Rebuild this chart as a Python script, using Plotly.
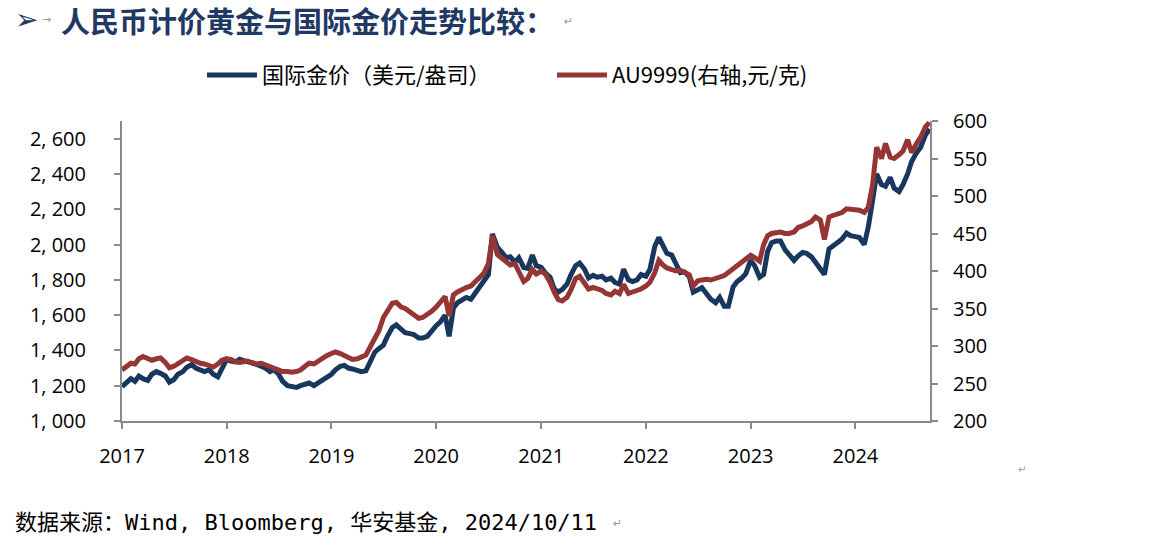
import pandas as pd
from plotly.graph_objects import Figure, Scatter

GOLD_USD_2017 = [1195, 1215, 1240, 1225, 1255, 1240, 1230, 1265, 1280, 1270, 1255, 1220,
                 1235, 1265, 1280, 1305, 1320, 1300, 1285, 1280, 1290, 1265, 1250, 1300]
GOLD_USD_2018 = [1350, 1340, 1335, 1350, 1340, 1335, 1330, 1320, 1310, 1300, 1280, 1290,
                 1265, 1225, 1200, 1195, 1190, 1200, 1210, 1215, 1200, 1215, 1235, 1255]
GOLD_USD_2019 = [1265, 1290, 1310, 1315, 1300, 1295, 1290, 1280, 1285, 1330, 1390, 1410,
                 1430, 1480, 1530, 1545, 1515, 1500, 1495, 1490, 1470, 1470, 1480, 1510]
GOLD_USD_2020 = [1540, 1560, 1600, 1480, 1640, 1670, 1690, 1700, 1690, 1720, 1755, 1785,
                 1830, 2060, 1985, 1960, 1925, 1930, 1900, 1925, 1870, 1865, 1940, 1880]
GOLD_USD_2021 = [1870, 1840, 1815, 1750, 1730, 1745, 1775, 1830, 1880, 1895, 1860, 1810,
                 1825, 1815, 1820, 1800, 1810, 1785, 1775, 1860, 1800, 1790, 1800, 1830]
GOLD_USD_2022 = [1820, 1860, 1990, 2040, 1990, 1950, 1940, 1890, 1840, 1845, 1820, 1730,
                 1740, 1755, 1720, 1690, 1670, 1700, 1650, 1650, 1760, 1790, 1810, 1835]
GOLD_USD_2023 = [1910, 1880, 1815, 1830, 1960, 2010, 2020, 2020, 1970, 1945, 1910, 1935,
                 1955, 1950, 1930, 1900, 1860, 1830, 1975, 1990, 2010, 2030, 2065, 2050]
GOLD_USD_2024 = [2045, 2040, 2000, 2100, 2250, 2400, 2340, 2330, 2380, 2320, 2300, 2340,
                 2400, 2470, 2520, 2550, 2620, 2655]

AU9999_2017 = [268, 273, 277, 276, 283, 286, 283, 281, 283, 284, 278, 271,
               273, 277, 281, 284, 282, 279, 277, 276, 274, 272, 276, 281]
AU9999_2018 = [283, 282, 279, 278, 279, 280, 277, 276, 277, 275, 272, 270,
               268, 266, 266, 265, 266, 268, 273, 277, 276, 280, 283, 287]
AU9999_2019 = [290, 292, 290, 287, 284, 282, 283, 286, 288, 298, 310, 320,
               338, 347, 357, 358, 352, 350, 346, 342, 337, 338, 342, 346]
AU9999_2020 = [352, 358, 366, 340, 368, 372, 376, 378, 380, 385, 390, 397,
               410, 447, 422, 417, 412, 408, 410, 400, 386, 390, 402, 396]
AU9999_2021 = [400, 396, 385, 372, 362, 360, 365, 375, 390, 393, 385, 376,
               378, 376, 374, 370, 368, 373, 370, 382, 370, 372, 374, 376]
AU9999_2022 = [380, 385, 398, 414, 408, 404, 402, 400, 401, 398, 395, 380,
               387, 388, 389, 388, 390, 391, 394, 398, 403, 408, 411, 416]
AU9999_2023 = [421, 418, 413, 435, 447, 450, 452, 452, 450, 450, 452, 458,
               460, 462, 466, 472, 468, 442, 472, 474, 477, 478, 483, 482]
AU9999_2024 = [482, 481, 478, 485, 515, 565, 550, 570, 552, 550, 555, 560,
               575, 558, 570, 578, 592, 598]

LEFT_TICKS = [1000, 1200, 1400, 1600, 1800, 2000, 2200, 2400, 2600]
LEFT_LABELS = ['1, 000', '1, 200', '1, 400', '1, 600', '1, 800',
               '2, 000', '2, 200', '2, 400', '2, 600']
YEAR_TICKS = ['2017-01-01', '2018-01-01', '2019-01-01', '2020-01-01',
              '2021-01-01', '2022-01-01', '2023-01-01', '2024-01-01']
YEAR_LABELS = ['2017', '2018', '2019', '2020', '2021', '2022', '2023', '2024']

BLUE = '#17375E'
RED = '#963634'
AXIS = '#898989'
TICK_FONT = dict(family='Open Sans', size=20, color='#000000')
CJK = 'Noto Sans CJK SC'


def main():
    gold_usd = (GOLD_USD_2017 + GOLD_USD_2018 + GOLD_USD_2019 + GOLD_USD_2020
                + GOLD_USD_2021 + GOLD_USD_2022 + GOLD_USD_2023 + GOLD_USD_2024)
    au9999 = (AU9999_2017 + AU9999_2018 + AU9999_2019 + AU9999_2020
              + AU9999_2021 + AU9999_2022 + AU9999_2023 + AU9999_2024)
    dates = pd.date_range('2017-01-01', '2024-09-15', freq='SMS')
    assert len(dates) == len(gold_usd) == len(au9999)

    fig = Figure()
    fig.add_trace(Scatter(x=dates, y=gold_usd, name='国际金价（美元/盎司）',
                          mode='lines', line=dict(color=BLUE, width=5)))
    fig.add_trace(Scatter(x=dates, y=au9999, name='AU9999(右轴,元/克)',
                          mode='lines', line=dict(color=RED, width=5),
                          yaxis='y2'))

    axis_style = dict(showline=True, linecolor=AXIS, linewidth=2,
                      ticks='outside', ticklen=6, tickwidth=2, tickcolor=AXIS,
                      showgrid=False, zeroline=False, tickfont=TICK_FONT)
    fig.update_layout(
        width=1167, height=552,
        margin=dict(l=122, r=237, t=121, b=131),
        paper_bgcolor='white', plot_bgcolor='white',
        xaxis=dict(type='date', range=['2017-01-01', '2024-09-17'],
                   tickvals=YEAR_TICKS, ticktext=YEAR_LABELS,
                   ticklabelstandoff=10, **axis_style),
        yaxis=dict(range=[1000, 2700], tickvals=LEFT_TICKS, ticktext=LEFT_LABELS,
                   ticklabelstandoff=24, **axis_style),
        yaxis2=dict(range=[200, 600], dtick=50, overlaying='y', side='right',
                    ticklabelstandoff=11, **axis_style),
        legend=dict(orientation='h', x=0.099, xanchor='left', y=1.153,
                    yanchor='middle', font=dict(family=CJK, size=22, color='#000'),
                    entrywidth=285, itemwidth=50),
        showlegend=True,
    )

    notes = [
        dict(text='<b>➢</b>', x=-0.135, y=1.337, xanchor='left',
             font=dict(family='DejaVu Sans', size=28, color='#1F3864')),
        dict(text='→', x=-0.102, y=1.337, xanchor='left',
             font=dict(family='DejaVu Sans', size=11, color='#9A9A9A')),
        dict(text='<b>人民币计价黄金与国际金价走势比较：</b>', x=-0.078, y=1.337,
             xanchor='left', font=dict(family=CJK, size=29, color='#1F3864')),
        dict(text='↵', x=0.545, y=1.33, xanchor='left',
             font=dict(family='DejaVu Sans', size=11, color='#9A9A9A')),
        dict(text='数据来源：Wind, Bloomberg, 华安基金, 2024/10/11', x=-0.135, y=-0.337,
             xanchor='left', font=dict(family='DejaVu Sans Mono, ' + CJK, size=22,
                                       color='#000')),
        dict(text='↵', x=0.605, y=-0.34, xanchor='left',
             font=dict(family='DejaVu Sans', size=11, color='#9A9A9A')),
        dict(text='↵', x=1.107, y=-0.163, xanchor='left',
             font=dict(family='DejaVu Sans', size=10, color='#9A9A9A')),
    ]
    for note in notes:
        fig.add_annotation(xref='paper', yref='paper', yanchor='middle',
                           showarrow=False, **note)

    fig.write_html('out.html', config={'displayModeBar': False},
                   post_script="document.body.style.margin='0';")


main()
